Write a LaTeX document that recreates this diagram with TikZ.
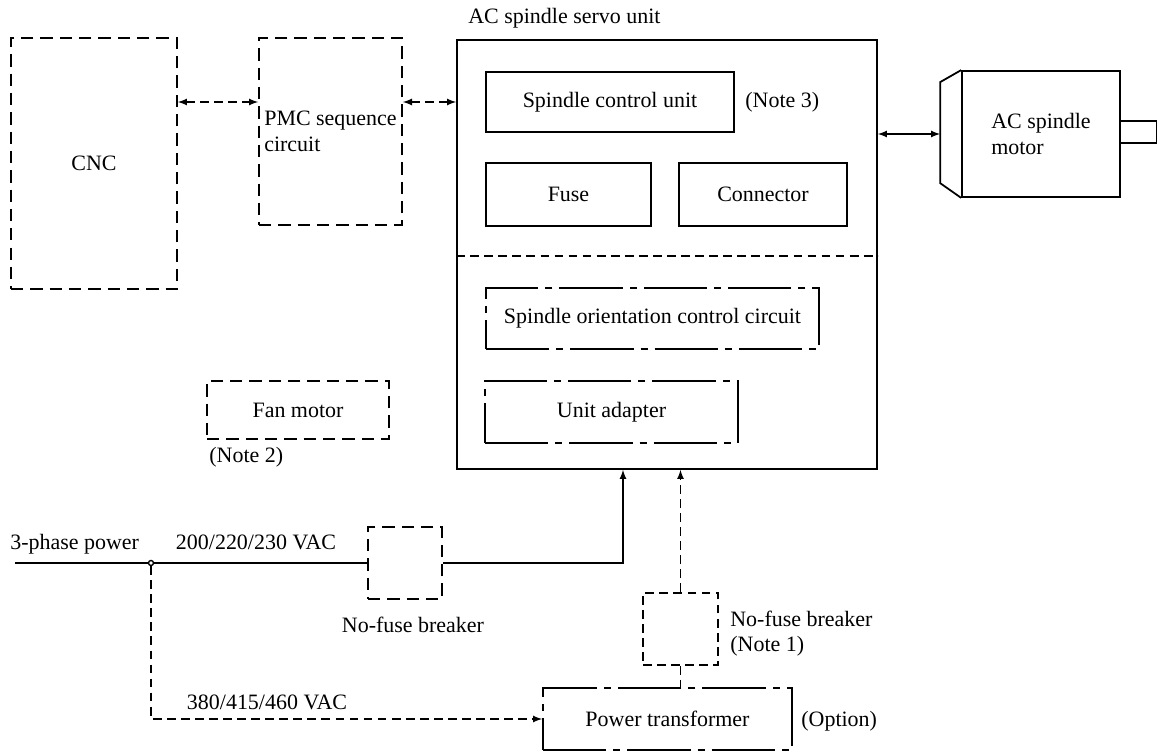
\documentclass[tikz,border=0pt]{standalone}
\usepackage{fontspec}
\setmainfont{Liberation Serif}

\begin{document}
\begin{tikzpicture}[
  x=0.02cm, y=-0.02cm, >=latex,
  font=\fontsize{12.5}{14.5}\selectfont,
  blk/.style={draw, line width=1pt, inner sep=0pt},
  dblk/.style={blk, dash pattern=on 7pt off 4pt},
  ldblk/.style={blk, dash pattern=on 36pt off 4pt on 4pt off 4pt},
  lbl/.style={inner sep=0pt},
  wire/.style={line width=0.8pt},
  dwire/.style={wire, dash pattern=on 5pt off 3pt}
]
  \useasboundingbox (0,0) rectangle (1157,753);

  \node[dblk, minimum width=3.32cm, minimum height=5.02cm] (cnc) at (94,163.5) {CNC};
  \node[dblk, minimum width=2.86cm, minimum height=3.74cm, align=left] (pmc) at (330.5,131.5) {PMC sequence\\circuit};

  \node[blk, minimum width=8.4cm, minimum height=8.58cm] (servo) at (667,254.5) {};
  \node[lbl, anchor=west] (servolbl) at (468,18) {AC spindle servo unit};
  \node[blk, minimum width=4.96cm, minimum height=1.2cm] (scu) at (610,102) {Spindle control unit};
  \node[lbl, anchor=west] (note3) at (745,102) {(Note 3)};
  \node[blk, minimum width=3.3cm, minimum height=1.26cm] (fuse) at (568.5,194.5) {Fuse};
  \node[blk, minimum width=3.36cm, minimum height=1.26cm] (conn) at (763,194.5) {Connector};
  \draw[dwire] (servo.west |- 0,256) -- (servo.east |- 0,256);
  \node[ldblk, minimum width=6.66cm, minimum height=1.22cm] (soc) at (652.5,318.5) {Spindle orientation control circuit};
  \node[ldblk, minimum width=5.06cm, minimum height=1.24cm] (ua) at (611.5,412) {Unit adapter};

  \node[blk, minimum width=3.16cm, minimum height=2.52cm, align=left] (motor) at (1041,134) {AC spindle\\motor};
  \draw[line width=1pt] (motor.north west) -- ++(-21,12) -- ++(0,101) -- (motor.south west);
  \draw[line width=1pt] ([yshift=0.26cm]motor.east) -- ++(36,0) -- ++(0,22) -- ++(-36,0);
  \coordinate (mfront) at ([xshift=-0.42cm]motor.west);

  \node[dblk, minimum width=3.64cm, minimum height=1.16cm] (fan) at (298,410) {Fan motor};
  \node[lbl, anchor=west] (note2) at (209,457) {(Note 2)};

  \coordinate (src) at (15,563);
  \node[circle, draw, line width=0.8pt, inner sep=0pt, minimum size=0.1cm] (jn) at (151,563) {};
  \node[lbl, anchor=west] (phase) at (10,544) {3-phase power};
  \node[lbl] (v200) at (256,542) {200/220/230 VAC};
  \node[dblk, minimum width=1.48cm, minimum height=1.44cm] (brk1) at (405,563) {};
  \node[lbl] (brk1lbl) at (413,625) {No-fuse breaker};
  \node[dblk, dash pattern=on 5pt off 3pt, minimum width=1.5cm, minimum height=1.44cm] (brk2) at (680.5,629) {};
  \node[lbl, anchor=west, align=left] (brk2lbl) at (730,633.5) {No-fuse breaker\\(Note 1)};
  \node[ldblk, minimum width=4.98cm, minimum height=1.24cm] (xfmr) at (667.5,719) {Power transformer};
  \node[lbl, anchor=west] (option) at (801,721) {(Option)};
  \node[lbl] (v380) at (267,702) {380/415/460 VAC};

  \draw[dwire, <->] (cnc.east |- scu) -- (pmc.west |- scu);
  \draw[dwire, <->] (pmc.east |- scu) -- (servo.west |- scu);
  \draw[wire, <->] (servo.east |- motor) -- (mfront);
  \draw[wire] (src) -- (jn) -- (brk1.west);
  \draw[wire, ->] (brk1.east) -| ([xshift=-0.88cm]servo.south);
  \draw[dwire, ->] (brk2.north) -- (brk2.north |- servo.south);
  \draw[dwire] (brk2.south) -- (brk2.south |- xfmr.north);
  \draw[dwire, ->] (jn) |- (xfmr.west);
\end{tikzpicture}
\end{document}
